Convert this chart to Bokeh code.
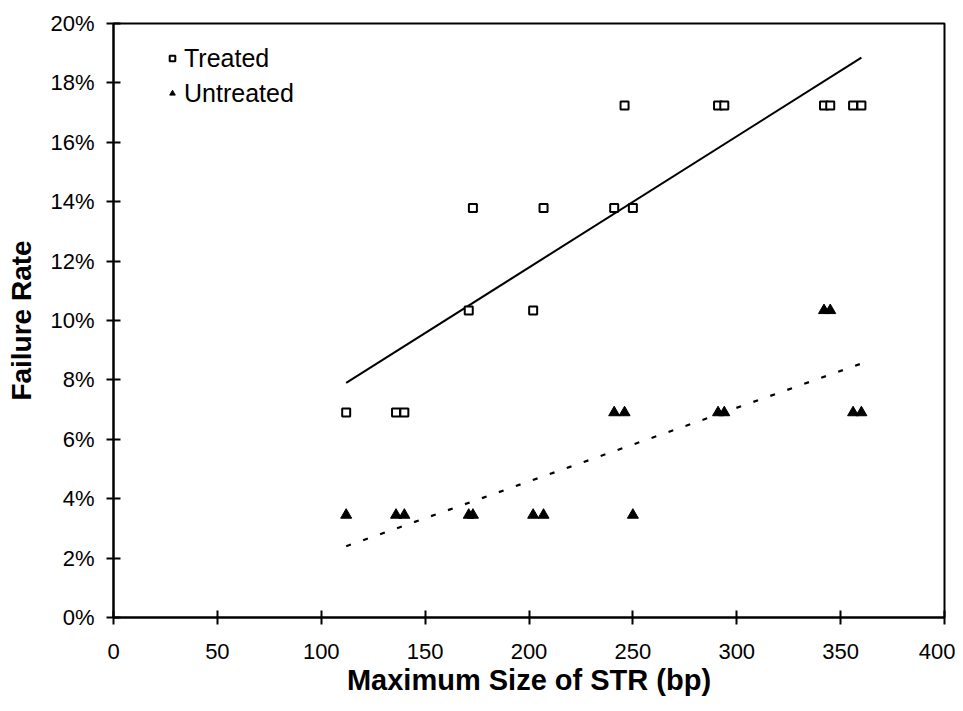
from bokeh.plotting import figure
from bokeh.models import Range1d, FixedTicker, Legend, LegendItem
from bokeh.embed import file_html
from bokeh.resources import INLINE

# ---- data (failure rate in %) ----
str_size = [112, 136, 140, 171, 173, 202, 207, 241, 246, 250, 291, 294, 342, 345, 356, 360]
treated = [6.9, 6.9, 6.9, 10.34, 13.79, 10.34, 13.79, 13.79, 17.24, 13.79, 17.24, 17.24, 17.24, 17.24, 17.24, 17.24]
untreated = [3.45, 3.45, 3.45, 3.45, 3.45, 3.45, 3.45, 6.9, 6.9, 3.45, 6.9, 6.9, 10.34, 10.34, 6.9, 6.9]

trend_x = [112, 360]
treated_trend = [7.9, 18.85]
untreated_trend = [2.4, 8.55]

x_ticks = [0, 50, 100, 150, 200, 250, 300, 350, 400]
y_ticks = [0, 2, 4, 6, 8, 10, 12, 14, 16, 18, 20]
y_tick_labels = {v: f"{v}%" for v in y_ticks}

FONT = "Liberation Sans"

p = figure(width=955, height=705, output_backend="svg", toolbar_location=None,
           x_range=Range1d(0, 400), y_range=Range1d(0, 20),
           min_border_left=113, min_border_right=11, min_border_top=23, min_border_bottom=88)

p.xgrid.visible = False
p.ygrid.visible = False
p.outline_line_color = "black"
p.outline_line_width = 2
p.background_fill_color = "white"
p.border_fill_color = "white"

for ax in (p.xaxis[0], p.yaxis[0]):
    ax.axis_line_width = 2
    ax.axis_line_color = "black"
    ax.major_tick_line_width = 2
    ax.major_tick_line_color = "black"
    ax.major_tick_in = 7
    ax.major_tick_out = 7
    ax.minor_tick_line_color = None
    ax.major_label_text_font = FONT
    ax.major_label_text_font_size = "22px"
    ax.major_label_text_color = "black"
    ax.axis_label_text_font = FONT
    ax.axis_label_text_font_style = "bold"
    ax.axis_label_text_color = "black"

p.xaxis.ticker = FixedTicker(ticks=x_ticks)
p.yaxis.ticker = FixedTicker(ticks=y_ticks)
p.yaxis.major_label_overrides = y_tick_labels
p.xaxis.axis_label = "Maximum Size of STR (bp)"
p.yaxis.axis_label = "Failure Rate"
p.xaxis.axis_label_text_font_size = "29px"
p.yaxis.axis_label_text_font_size = "28px"
p.xaxis.major_label_standoff = 19
p.yaxis.major_label_standoff = 12
p.xaxis.axis_label_standoff = 2
p.yaxis.axis_label_standoff = 10

# trend lines
p.line(trend_x, treated_trend, line_color="black", line_width=2)
p.line(trend_x, untreated_trend, line_color="black", line_width=2.2, line_dash="5 13")

# points
r_t = p.scatter(str_size, treated, marker="square", size=8, line_color="black",
                line_width=2, fill_color="white")
r_u = p.scatter(str_size, untreated, marker="triangle", size=11, line_color="black",
                line_width=1, fill_color="black")

legend = Legend(items=[LegendItem(label="Treated", renderers=[r_t]),
                       LegendItem(label="Untreated", renderers=[r_u])],
                location=(52, 509))
legend.label_text_font = FONT
legend.label_text_font_size = "25px"
legend.label_text_color = "black"
legend.glyph_width = 14
legend.glyph_height = 14
legend.label_standoff = 5
legend.label_height = 30
legend.padding = 0
legend.spacing = 5
legend.margin = 0
legend.border_line_alpha = 0
legend.background_fill_alpha = 0
p.add_layout(legend, "center")

open("out.html", "w").write(file_html(p, INLINE))
